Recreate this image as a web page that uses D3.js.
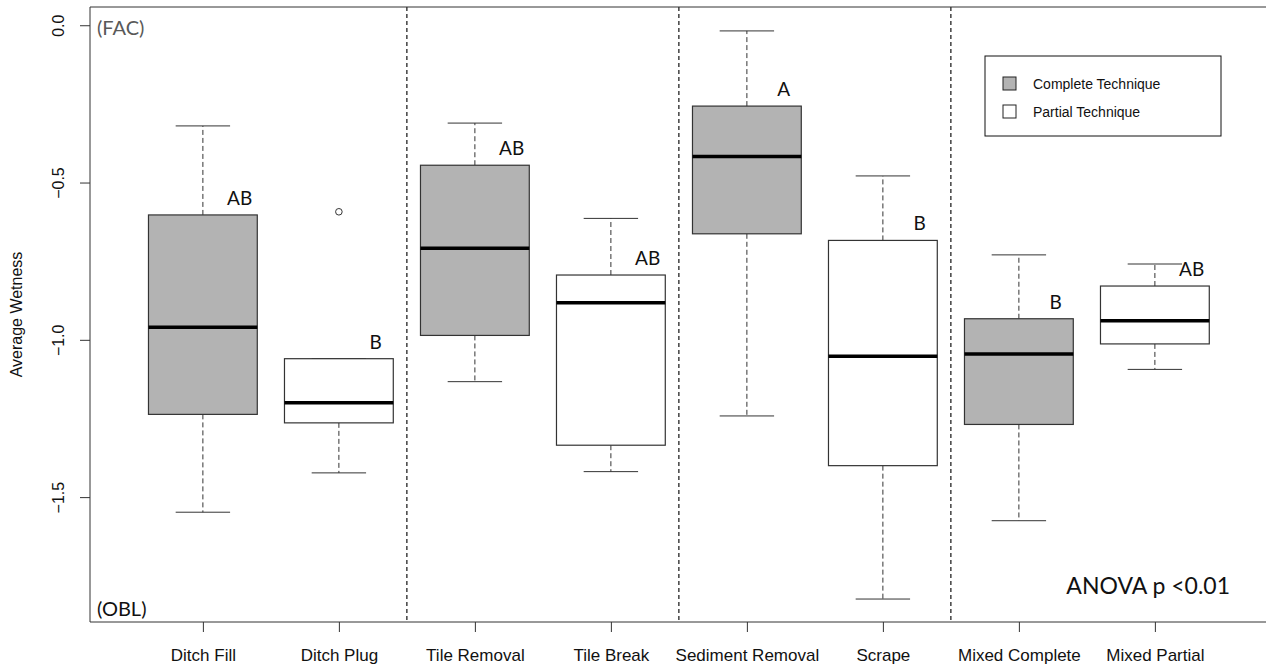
<!DOCTYPE html>
<html>
<head>
<meta charset="utf-8">
<script src="https://cdn.jsdelivr.net/npm/d3@7"></script>
<style>
  html, body { margin: 0; padding: 0; background: #fff; }
  svg { display: block; }
</style>
</head>
<body>
<svg id="chart" width="1266" height="667"></svg>
<script>
// Restoration techniques and their wetness summaries
const categories = ["Ditch Fill", "Ditch Plug", "Tile Removal", "Tile Break",
                    "Sediment Removal", "Scrape", "Mixed Complete", "Mixed Partial"];
const technique  = ["complete", "partial", "complete", "partial",
                    "complete", "partial", "complete", "partial"];
const whiskerLow  = [-1.548, -1.423, -1.133, -1.419, -1.242, -1.824, -1.575, -1.094];
const q1          = [-1.237, -1.264, -0.986, -1.335, -0.663, -1.400, -1.269, -1.013];
const medians     = [-0.960, -1.200, -0.709, -0.882, -0.417, -1.052, -1.045, -0.939];
const q3          = [-0.603, -1.060, -0.445, -0.794, -0.257, -0.684, -0.933, -0.829];
const whiskerHigh = [-0.320, -1.060, -0.311, -0.614, -0.018, -0.479, -0.730, -0.759];
const outliers    = [[], [-0.593], [], [], [], [], [], []];
const groupLetters = ["AB", "B", "AB", "AB", "A", "B", "B", "AB"];
const yTicks = [0.0, -0.5, -1.0, -1.5];
const legendItems = ["Complete Technique", "Partial Technique"];

const svg = d3.select("#chart");
const plotLeft = 90, plotTop = 7, plotBottom = 622, plotRight = 1300;

const x = d3.scaleLinear().domain([0.17, 0.17 + (plotRight - plotLeft) / 136]).range([plotLeft, plotRight]);
const y = d3.scaleLinear().domain([-1.897, 0.058]).range([plotBottom, plotTop]);
const step = x(2) - x(1);
const boxW = step * 0.8;
const capW = boxW * 0.5;
const fillFor = t => t === "complete" ? "#b3b3b3" : "#ffffff";

const data = categories.map((c, i) => ({
  name: c, pos: i + 1, tech: technique[i],
  lo: whiskerLow[i], q1: q1[i], med: medians[i], q3: q3[i], hi: whiskerHigh[i],
  out: outliers[i], letter: groupLetters[i]
}));

// Dashed separators between technique pairs
svg.append("g").selectAll("line").data([2.5, 4.5, 6.5]).join("line")
  .attr("x1", d => x(d)).attr("x2", d => x(d))
  .attr("y1", plotTop).attr("y2", plotBottom)
  .attr("stroke", "#111").attr("stroke-width", 1.2)
  .attr("stroke-dasharray", "4,3");

// Boxplots
const g = svg.append("g").selectAll("g").data(data).join("g");

g.append("line") // upper whisker
  .attr("x1", d => x(d.pos)).attr("x2", d => x(d.pos))
  .attr("y1", d => y(d.q3)).attr("y2", d => y(d.hi))
  .attr("stroke", "#333").attr("stroke-dasharray", "5,3");
g.append("line") // lower whisker
  .attr("x1", d => x(d.pos)).attr("x2", d => x(d.pos))
  .attr("y1", d => y(d.q1)).attr("y2", d => y(d.lo))
  .attr("stroke", "#333").attr("stroke-dasharray", "5,3");
g.append("line") // staples
  .attr("x1", d => x(d.pos) - capW / 2).attr("x2", d => x(d.pos) + capW / 2)
  .attr("y1", d => y(d.hi)).attr("y2", d => y(d.hi))
  .attr("stroke", "#333");
g.append("line")
  .attr("x1", d => x(d.pos) - capW / 2).attr("x2", d => x(d.pos) + capW / 2)
  .attr("y1", d => y(d.lo)).attr("y2", d => y(d.lo))
  .attr("stroke", "#333");
g.append("rect")
  .attr("x", d => x(d.pos) - boxW / 2).attr("width", boxW)
  .attr("y", d => y(d.q3)).attr("height", d => y(d.q1) - y(d.q3))
  .attr("fill", d => fillFor(d.tech))
  .attr("stroke", "#333").attr("stroke-width", 1.2);
g.append("line") // median
  .attr("x1", d => x(d.pos) - boxW / 2).attr("x2", d => x(d.pos) + boxW / 2)
  .attr("y1", d => y(d.med)).attr("y2", d => y(d.med))
  .attr("stroke", "#000").attr("stroke-width", 3.5);
g.selectAll("circle").data(d => d.out.map(v => ({ pos: d.pos, v }))).join("circle")
  .attr("cx", d => x(d.pos)).attr("cy", d => y(d.v)).attr("r", 3.3)
  .attr("fill", "none").attr("stroke", "#333").attr("stroke-width", 1);

// Significance letters
g.append("text")
  .attr("x", d => x(d.pos) + step * 0.27)
  .attr("y", d => y(d.q3) - 10)
  .attr("text-anchor", "middle")
  .attr("font-family", "Lato, 'Open Sans', sans-serif")
  .attr("font-size", 19).attr("fill", "#111")
  .text(d => d.letter);

// Axes
const yAxis = d3.axisLeft(y).tickValues(yTicks).tickFormat(d3.format(".1f")).tickSize(10).tickSizeOuter(0);
const yg = svg.append("g").attr("transform", `translate(${plotLeft},0)`).call(yAxis);
yg.select(".domain").attr("stroke", "#333").attr("d", `M0,${plotTop}V${plotBottom}`);
yg.selectAll(".tick line").attr("stroke", "#333");
yg.selectAll(".tick text")
  .attr("font-family", "'Liberation Sans', Arial, sans-serif").attr("font-size", 16)
  .attr("fill", "#111")
  .attr("transform", "translate(-32,0) rotate(-90)")
  .attr("x", 0).attr("dy", "0.35em").attr("text-anchor", "middle");

const xAxis = d3.axisBottom(x).tickValues(d3.range(1, categories.length + 1))
  .tickFormat(i => categories[i - 1]).tickSize(10).tickSizeOuter(0);
const xg = svg.append("g").attr("transform", `translate(0,${plotBottom})`).call(xAxis);
xg.select(".domain").attr("stroke", "#333").attr("d", `M${plotLeft},0H${plotRight}`);
xg.selectAll(".tick line").attr("stroke", "#333");
xg.selectAll(".tick text")
  .attr("font-family", "'Liberation Sans', Arial, sans-serif").attr("font-size", 17)
  .attr("fill", "#111").attr("y", 39).attr("dy", "0");

// Top frame line
svg.append("line").attr("x1", plotLeft).attr("x2", plotRight).attr("y1", plotTop).attr("y2", plotTop)
  .attr("stroke", "#333");

// Y axis title
svg.append("text")
  .attr("transform", `translate(22,${(plotTop + plotBottom) / 2}) rotate(-90)`)
  .attr("text-anchor", "middle")
  .attr("font-family", "'Liberation Sans', Arial, sans-serif").attr("font-size", 16)
  .attr("fill", "#111").text("Average Wetness");

// Scale end notes
svg.append("text").attr("x", 97).attr("y", 35)
  .attr("font-family", "Lato, sans-serif").attr("font-size", 20).attr("fill", "#595959")
  .text("(FAC)");
svg.append("text").attr("x", 97).attr("y", 616)
  .attr("font-family", "Lato, sans-serif").attr("font-size", 20).attr("fill", "#111")
  .text("(OBL)");
svg.append("text").attr("x", 1230).attr("y", 594).attr("text-anchor", "end")
  .attr("font-family", "Lato, sans-serif").attr("font-size", 23).attr("fill", "#111")
  .text("ANOVA p <0.01");

// Legend
const lg = svg.append("g").attr("transform", "translate(985,56)");
lg.append("rect").attr("width", 236).attr("height", 80)
  .attr("fill", "#fff").attr("stroke", "#111").attr("stroke-width", 1);
const li = lg.selectAll("g.item").data(legendItems).join("g").attr("class", "item")
  .attr("transform", (d, i) => `translate(18,${21 + i * 28})`);
li.append("rect").attr("width", 13).attr("height", 13)
  .attr("fill", (d, i) => i === 0 ? fillFor("complete") : fillFor("partial"))
  .attr("stroke", "#222");
li.append("text").attr("x", 30).attr("y", 12)
  .attr("font-family", "'Liberation Sans', Arial, sans-serif").attr("font-size", 14)
  .attr("fill", "#111").text(d => d);
</script>
</body>
</html>
